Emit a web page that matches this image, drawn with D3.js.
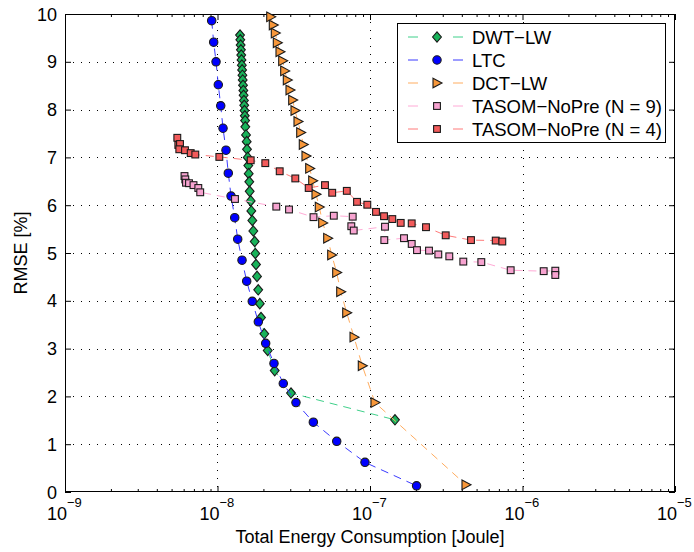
<!DOCTYPE html>
<html><head><meta charset="utf-8">
<script src="https://cdn.jsdelivr.net/npm/d3@7"></script>
<style>html,body{margin:0;padding:0;background:#fff;}svg{display:block;font-family:"Liberation Sans",Arial,Helvetica,sans-serif;}</style>
</head><body>
<svg id="chart" width="694" height="552"></svg>
<script>
// ---- data ----
const seriesNames = ["DWT\u2212LW","LTC","DCT\u2212LW","TASOM\u2212NoPre (N = 9)","TASOM\u2212NoPre (N = 4)"];
const xTickExps = [-9,-8,-7,-6,-5];
const yTickVals = [0,1,2,3,4,5,6,7,8,9,10];

const dwtX = [1.405e-8,1.411e-8,1.418e-8,1.424e-8,1.431e-8,1.437e-8,1.444e-8,1.450e-8,1.457e-8,1.463e-8,1.470e-8,1.477e-8,1.483e-8,1.490e-8,1.497e-8,1.503e-8,1.510e-8,1.517e-8,1.522e-8,1.538e-8,1.554e-8,1.561e-8,1.578e-8,1.592e-8,1.602e-8,1.616e-8,1.626e-8,1.651e-8,1.666e-8,1.692e-8,1.717e-8,1.754e-8,1.770e-8,1.789e-8,1.816e-8,1.849e-8,1.894e-8,1.929e-8,2.027e-8,2.134e-8,2.372e-8,3.034e-8,1.458e-7];
const dwtY = [9.56,9.46,9.35,9.25,9.14,9.04,8.93,8.83,8.72,8.62,8.51,8.40,8.30,8.19,8.09,7.98,7.87,7.77,7.64,7.47,7.33,7.17,7.00,6.83,6.66,6.49,6.29,6.09,5.88,5.68,5.46,5.24,4.99,4.76,4.51,4.23,3.94,3.65,3.31,2.96,2.54,2.07,1.51];

const ltcX = [9.16e-9,9.44e-9,9.78e-9,1.012e-8,1.05e-8,1.087e-8,1.137e-8,1.177e-8,1.227e-8,1.297e-8,1.357e-8,1.448e-8,1.554e-8,1.69e-8,1.852e-8,2.07e-8,2.346e-8,2.70e-8,3.27e-8,4.25e-8,6.05e-8,9.27e-8,2.02e-7];
const ltcY = [9.86,9.41,9.0,8.52,8.08,7.61,7.15,6.67,6.19,5.74,5.29,4.85,4.41,3.99,3.56,3.11,2.69,2.27,1.87,1.46,1.06,0.62,0.13];

const dctX = [2.233e-8,2.322e-8,2.393e-8,2.467e-8,2.569e-8,2.676e-8,2.758e-8,2.869e-8,2.988e-8,3.112e-8,3.223e-8,3.372e-8,3.512e-8,3.652e-8,3.804e-8,4.023e-8,4.210e-8,4.424e-8,4.650e-8,4.895e-8,5.279e-8,5.609e-8,6.047e-8,6.425e-8,7.035e-8,7.856e-8,8.902e-8,1.078e-7,4.26e-7];
const dctY = [9.94,9.77,9.60,9.40,9.21,9.02,8.81,8.62,8.41,8.20,7.98,7.75,7.52,7.27,7.03,6.77,6.51,6.23,5.96,5.63,5.31,4.96,4.59,4.19,3.75,3.24,2.64,1.87,0.15];

const n9X = [6.075e-9,6.150e-9,6.215e-9,6.503e-9,6.961e-9,7.485e-9,7.703e-9,1.302e-8,2.430e-8,2.944e-8,4.261e-8,5.789e-8,7.703e-8,7.541e-8,7.820e-8,1.254e-7,1.241e-7,1.671e-7,1.877e-7,2.033e-7,2.437e-7,2.805e-7,3.311e-7,4.091e-7,5.369e-7,8.366e-7,1.377e-6,1.641e-6,1.641e-6];
const n9Y = [6.61,6.54,6.47,6.46,6.42,6.36,6.27,6.13,5.97,5.91,5.75,5.78,5.76,5.56,5.47,5.55,5.27,5.31,5.19,5.06,5.05,4.97,4.93,4.82,4.81,4.64,4.62,4.63,4.54];

const n4X = [5.45e-9,5.534e-9,5.677e-9,5.617e-9,6.122e-9,6.673e-9,7.152e-9,1.028e-8,1.651e-8,2.058e-8,2.558e-8,3.237e-8,3.963e-8,5.068e-8,5.651e-8,7.046e-8,8.220e-8,9.601e-8,1.095e-7,1.236e-7,1.400e-7,1.590e-7,1.877e-7,2.329e-7,3.136e-7,4.595e-7,6.674e-7,7.371e-7];
const n4Y = [7.41,7.26,7.28,7.17,7.15,7.09,7.06,7.01,6.94,6.88,6.71,6.56,6.36,6.42,6.26,6.30,6.07,6.01,5.86,5.77,5.71,5.63,5.62,5.54,5.37,5.27,5.26,5.24];

// ---- styles ----
const styles = [
  {xs:dwtX, ys:dwtY, shape:"diamond", fill:"#19b35a", line:"#3fd08a"},
  {xs:ltcX, ys:ltcY, shape:"circle", fill:"#0000ff", line:"#3a3aff"},
  {xs:dctX, ys:dctY, shape:"triangle", fill:"#f7973a", line:"#ffad60"},
  {xs:n9X, ys:n9Y, shape:"square", fill:"#f7a3d0", line:"#ffaad6"},
  {xs:n4X, ys:n4Y, shape:"square", fill:"#f25b5b", line:"#ff7a7a"}
];

const svg = d3.select("#chart");
const L=65,R=675,T=14,B=492;
const x = d3.scaleLog().domain([1e-9,1e-5]).range([L,R]);
const y = d3.scaleLinear().domain([0,10]).range([B,T]);

svg.append("rect").attr("x",0).attr("y",0).attr("width",694).attr("height",552).attr("fill","#fff");

// grid
const grid = svg.append("g").attr("stroke","#000").attr("stroke-width",1).attr("stroke-dasharray","1,7");
[1e-8,1e-7,1e-6].forEach(v=>{
  grid.append("line").attr("x1",Math.round(x(v))+0.5).attr("x2",Math.round(x(v))+0.5).attr("y1",T).attr("y2",B);
});
yTickVals.filter(v=>v>0&&v<10).forEach(v=>{
  grid.append("line").attr("y1",Math.round(y(v))+0.5).attr("y2",Math.round(y(v))+0.5).attr("x1",L).attr("x2",R);
});

// axes
const majorX = xTickExps.map(e=>Math.pow(10,e));
const minorX = [];
for(let e=-9;e<-5;e++) for(let k=2;k<10;k++) minorX.push(k*Math.pow(10,e));

function addAxis(axis, tr){ const g=svg.append("g").attr("transform",tr).call(axis); g.select(".domain").remove(); g.selectAll("line").attr("stroke","#000"); g.selectAll("text").remove(); return g; }
addAxis(d3.axisBottom(x).tickValues(majorX).tickSize(-6).tickFormat(""),`translate(0,${B})`);
addAxis(d3.axisBottom(x).tickValues(minorX).tickSize(-3).tickFormat(""),`translate(0,${B})`);
addAxis(d3.axisTop(x).tickValues(majorX).tickSize(-6).tickFormat(""),`translate(0,${T})`);
addAxis(d3.axisTop(x).tickValues(minorX).tickSize(-3).tickFormat(""),`translate(0,${T})`);
addAxis(d3.axisLeft(y).tickValues(yTickVals).tickSize(-6).tickFormat(""),`translate(${L},0)`);
addAxis(d3.axisRight(y).tickValues(yTickVals).tickSize(-6).tickFormat(""),`translate(${R},0)`);

svg.append("rect").attr("x",L+0.5).attr("y",T+0.5).attr("width",R-L-1).attr("height",B-T-1).attr("fill","none").attr("stroke","#000").attr("stroke-width",1);

// tick labels
xTickExps.forEach(e=>{
  svg.append("text").attr("x",x(Math.pow(10,e))-8).attr("y",519.5).attr("text-anchor","middle").attr("font-size",18).attr("fill","#000").text("10");
  svg.append("text").attr("x",x(Math.pow(10,e))+2).attr("y",507).attr("font-size",13).attr("fill","#000").text("\u2212"+Math.abs(e));
});
yTickVals.forEach(v=>{
  svg.append("text").attr("x",57).attr("y",y(v)+6.5).attr("text-anchor","end").attr("font-size",18).attr("fill","#000").text(v);
});

svg.append("text").attr("x",370).attr("y",543).attr("text-anchor","middle").attr("font-size",18).attr("fill","#000").text("Total Energy Consumption [Joule]");
svg.append("text").attr("transform","translate(27,253) rotate(-90)").attr("text-anchor","middle").attr("font-size",18).attr("fill","#000").text("RMSE [%]");

// markers
function marker(g, shape, cx, cy, fill){
  let el;
  if(shape==="circle") el=g.append("circle").attr("cx",cx).attr("cy",cy).attr("r",4.2);
  else if(shape==="diamond") el=g.append("path").attr("d",`M${cx},${cy-5.2}L${cx+4.4},${cy}L${cx},${cy+5.2}L${cx-4.4},${cy}Z`);
  else if(shape==="triangle") el=g.append("path").attr("d",`M${cx-4},${cy-4.8}L${cx+5},${cy}L${cx-4},${cy+4.8}Z`);
  else el=g.append("rect").attr("x",cx-3.4).attr("y",cy-3.4).attr("width",6.8).attr("height",6.8);
  el.attr("fill",fill).attr("stroke","#1a1a1a").attr("stroke-width",1.1);
}

const plot = svg.append("g");
plot.append("clipPath").attr("id","clip").append("rect").attr("x",L).attr("y",T-6).attr("width",R-L).attr("height",B-T+12);
const lineGen = d3.line().x(d=>x(d[0])).y(d=>y(d[1]));
styles.forEach(s=>{
  const pts = s.xs.map((v,i)=>[v,s.ys[i]]);
  const g = plot.append("g").attr("clip-path","url(#clip)");
  g.append("path").attr("d",lineGen(pts)).attr("fill","none").attr("stroke",s.line).attr("stroke-width",1).attr("stroke-dasharray","8,6");
  pts.forEach(p=>marker(g,s.shape,x(p[0]),y(p[1]),s.fill));
});

// legend
const lg = svg.append("g");
lg.append("rect").attr("x",397.5).attr("y",23.5).attr("width",268).attr("height",119).attr("fill","#fff").attr("stroke","#000").attr("stroke-width",1);
const rowY = [37,60,83,106,129];
styles.forEach((s,i)=>{
  const yy=rowY[i];
  lg.append("line").attr("x1",408).attr("x2",418).attr("y1",yy).attr("y2",yy).attr("stroke",s.line).attr("stroke-width",1);
  lg.append("line").attr("x1",453).attr("x2",463).attr("y1",yy).attr("y2",yy).attr("stroke",s.line).attr("stroke-width",1);
  marker(lg,s.shape,437,yy,s.fill);
  lg.append("text").attr("x",472).attr("y",yy+6.5).attr("font-size",18.5).attr("fill","#000").text(seriesNames[i]);
});
</script>
</body></html>
